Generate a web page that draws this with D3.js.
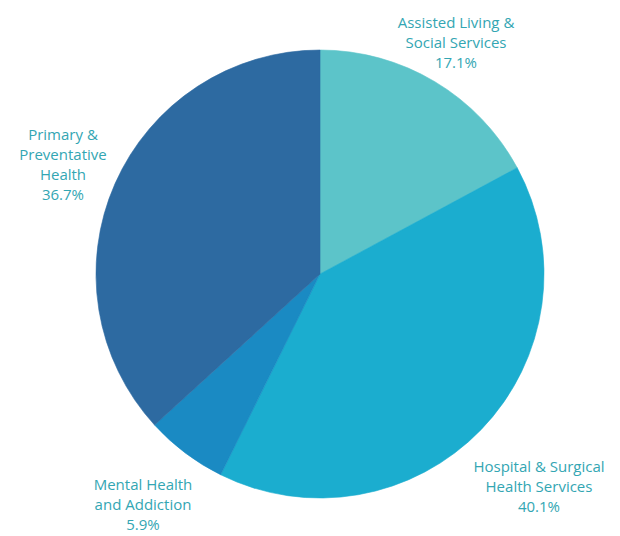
<!DOCTYPE html>
<html>
<head>
<meta charset="utf-8">
<script src="https://cdn.jsdelivr.net/npm/d3@7/dist/d3.min.js"></script>
<style>
  html, body { margin: 0; padding: 0; background: #ffffff; }
  svg { display: block; }
  text { font-family: "Open Sans", "Noto Sans", sans-serif; }
</style>
</head>
<body>
<svg id="chart" width="620" height="536"></svg>
<script>
// Spending share by service area (percent of total)
const categories = [
  "Assisted Living & Social Services",
  "Hospital & Surgical Health Services",
  "Mental Health and Addiction",
  "Primary & Preventative Health"
];
const values = [17.1, 40.1, 5.9, 36.7];
const labelLines = [
  ["Assisted Living &", "Social Services"],
  ["Hospital & Surgical", "Health Services"],
  ["Mental Health", "and Addiction"],
  ["Primary &", "Preventative", "Health"]
];
const colors = ["#5cc4c9", "#1badcf", "#1a8ac3", "#2d6aa1"];

const W = 620, H = 536;
const cx = 320, cy = 274, R = 224;

const svg = d3.select("#chart");
const data = categories.map((c, i) => ({ name: c, value: values[i], lines: labelLines[i], color: colors[i] }));

const pie = d3.pie().value(d => d.value).sort(null);
const arc = d3.arc().innerRadius(0).outerRadius(R);
const arcs = pie(data);

const g = svg.append("g").attr("transform", `translate(${cx},${cy})`);
g.selectAll("path.slice")
  .data(arcs)
  .join("path")
  .attr("class", "slice")
  .attr("d", arc)
  .attr("fill", d => d.data.color)
  .attr("stroke", d => d.data.color)
  .attr("stroke-width", 0.6);

// Label anchor points (centre x, first baseline y) placed outside each slice
const labelPos = [
  { x: 456, y: 28 },
  { x: 539, y: 472 },
  { x: 143, y: 490 },
  { x: 63, y: 140 }
];
const lineH = 20;
const fmt = d3.format(".1f");

const labels = svg.append("g").attr("class", "labels");
data.forEach((d, i) => {
  const t = labels.append("text")
    .attr("text-anchor", "middle")
    .attr("fill", "#33a6b3")
    .attr("font-size", 15);
  const lines = d.lines.concat([fmt(d.value) + "%"]);
  lines.forEach((ln, j) => {
    t.append("tspan")
      .attr("x", labelPos[i].x)
      .attr("y", labelPos[i].y + j * lineH)
      .text(ln);
  });
});
</script>
</body>
</html>
